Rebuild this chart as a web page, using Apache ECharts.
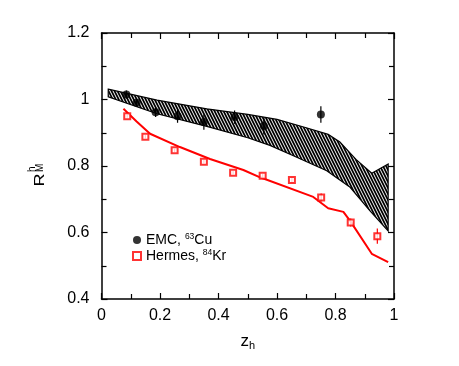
<!DOCTYPE html>
<html>
<head>
<meta charset="utf-8">
<script src="https://cdn.jsdelivr.net/npm/echarts/dist/echarts.min.js"></script>
<style>
  html, body { margin: 0; padding: 0; background: #fff; }
  #chart { width: 459px; height: 366px; }
</style>
</head>
<body>
<div id="chart"></div>
<script>
// EMC, 63Cu
const emcX = [0.085, 0.12, 0.185, 0.26, 0.35, 0.455, 0.555, 0.75];
const emcY = [1.015, 0.99, 0.962, 0.95, 0.932, 0.947, 0.92, 0.955];
const emcErr = [0.012, 0.012, 0.015, 0.02, 0.023, 0.02, 0.025, 0.025];
// Hermes, 84Kr
const hermesX = [0.088, 0.15, 0.25, 0.35, 0.45, 0.551, 0.651, 0.751, 0.852, 0.943];
const hermesY = [0.95, 0.888, 0.847, 0.813, 0.78, 0.771, 0.758, 0.705, 0.63, 0.589];
const hermesErr = [0.005, 0.005, 0.005, 0.005, 0.005, 0.005, 0.008, 0.012, 0.012, 0.023];
// red curve
const curveX = [0.075, 0.12, 0.166, 0.268, 0.371, 0.485, 0.542, 0.724, 0.775, 0.827, 0.85, 0.924, 0.98];
const curveY = [0.972, 0.934, 0.897, 0.857, 0.821, 0.788, 0.766, 0.707, 0.673, 0.662, 0.635, 0.536, 0.511];
// hatched band
const bandUpX = [0.023, 0.19, 0.36, 0.5, 0.6, 0.7, 0.775, 0.815, 0.87, 0.924, 0.98];
const bandUpY = [1.031, 0.998, 0.972, 0.955, 0.94, 0.915, 0.895, 0.872, 0.82, 0.778, 0.806];
const bandLoX = [0.023, 0.19, 0.36, 0.5, 0.576, 0.656, 0.77, 0.85, 0.918, 0.98];
const bandLoY = [1.008, 0.957, 0.919, 0.885, 0.862, 0.831, 0.786, 0.736, 0.665, 0.605];
// ticks
const xTicks = { min: 0, max: 1, interval: 0.2 };
const yTicks = { min: 0.4, max: 1.2, interval: 0.2 };

const FONT = '"Liberation Sans", Arial, sans-serif';

// hatch pattern "\\\\"
function makeHatch() {
  const c = document.createElement('canvas');
  c.width = 3;
  c.height = 6;
  const ctx = c.getContext('2d');
  ctx.fillStyle = '#fff';
  ctx.fillRect(0, 0, 3, 6);
  ctx.strokeStyle = '#000';
  ctx.lineWidth = 1.8;
  for (let k = -1; k <= 1; k++) {
    ctx.beginPath();
    ctx.moveTo(k * 3 - 3, -6);
    ctx.lineTo(k * 3 + 6, 12);
    ctx.stroke();
  }
  return c;
}
const hatch = makeHatch();

const chart = echarts.init(document.getElementById('chart'));

function frameAxis(pos, t, showLabel, extra) {
  return Object.assign({
    type: 'value',
    position: pos,
    min: t.min,
    max: t.max,
    interval: t.interval,
    axisLine: { show: true, onZero: false, lineStyle: { color: '#000', width: 1.5 } },
    axisTick: { show: true, inside: true, length: 6, lineStyle: { color: '#000', width: 1.2 } },
    minorTick: { show: true, splitNumber: 2, length: 5, lineStyle: { color: '#000', width: 1.2 } },
    splitLine: { show: false },
    axisLabel: { show: showLabel, color: '#000', fontSize: 16, fontFamily: FONT }
  }, extra || {});
}

const option = {
  animation: false,
  grid: { left: 101.5, right: 65, top: 33, bottom: 67, containLabel: false },
  xAxis: [
    frameAxis('bottom', xTicks, true, {
      axisLabel: { show: true, color: '#000', fontSize: 16, fontFamily: FONT, margin: 9 },
      name: '{z|z}{h|h}',
      nameLocation: 'middle',
      nameGap: 34,
      nameTextStyle: {
        rich: {
          z: { fontSize: 17, fontFamily: FONT, color: '#000', lineHeight: 18, verticalAlign: 'top' },
          h: { fontSize: 11, fontFamily: FONT, color: '#000', lineHeight: 18, verticalAlign: 'bottom', padding: [8, 0, 0, 0] }
        }
      }
    }),
    frameAxis('top', xTicks, false)
  ],
  yAxis: [
    frameAxis('left', yTicks, true, {
      axisLabel: { show: true, color: '#000', fontSize: 16, fontFamily: FONT, margin: 12 }
    }),
    frameAxis('right', yTicks, false)
  ],
  legend: {
    orient: 'vertical',
    left: 132,
    top: 232,
    padding: 0,
    itemWidth: 8,
    itemHeight: 8,
    itemGap: 1,
    data: ['EMC', 'Hermes'],
    formatter: function (name) {
      return name === 'EMC' ? '{t|EMC, }{s|63}{t|Cu}' : '{t|Hermes, }{s|84}{t|Kr}';
    },
    textStyle: {
      rich: {
        t: { fontSize: 14, fontFamily: FONT, color: '#000', lineHeight: 16 },
        s: { fontSize: 8.5, fontFamily: FONT, color: '#000', lineHeight: 16, verticalAlign: 'top' }
      }
    }
  },
  graphic: [{
    type: 'group',
    x: 40,
    y: 180,
    rotation: Math.PI / 2,
    children: [
      { type: 'text', x: 0, y: 0, scaleX: 1.3, style: { text: 'R', font: '14px ' + FONT, fill: '#000', align: 'center', verticalAlign: 'middle' } },
      { type: 'text', x: 8, y: -8, style: { text: 'h', font: '10px ' + FONT, fill: '#000', align: 'left', verticalAlign: 'middle' } },
      { type: 'text', x: 8, y: 0.5, style: { text: 'M', font: '10px ' + FONT, fill: '#000', align: 'left', verticalAlign: 'middle' } }
    ]
  }],
  series: [
    {
      name: 'band',
      type: 'custom',
      data: [0],
      z: 1,
      silent: true,
      renderItem: function (params, api) {
        const pts = [];
        for (let i = 0; i < bandUpX.length; i++) pts.push(api.coord([bandUpX[i], bandUpY[i]]));
        for (let i = bandLoX.length - 1; i >= 0; i--) pts.push(api.coord([bandLoX[i], bandLoY[i]]));
        return {
          type: 'polygon',
          shape: { points: pts },
          style: { fill: { image: hatch, repeat: 'repeat' }, stroke: '#000', lineWidth: 1.2 }
        };
      }
    },
    {
      name: 'curve',
      type: 'line',
      data: curveX.map((x, i) => [x, curveY[i]]),
      showSymbol: false,
      lineStyle: { color: '#f00', width: 2 },
      z: 2
    },
    {
      name: 'errEMC',
      type: 'custom',
      data: emcX.map((x, i) => [x, emcY[i], emcErr[i]]),
      z: 3,
      renderItem: function (params, api) {
        const a = api.coord([api.value(0), api.value(1) - api.value(2)]);
        const b = api.coord([api.value(0), api.value(1) + api.value(2)]);
        return { type: 'line', shape: { x1: a[0], y1: a[1], x2: b[0], y2: b[1] }, style: { stroke: '#000', lineWidth: 1.2 } };
      }
    },
    {
      name: 'errHermes',
      type: 'custom',
      data: hermesX.map((x, i) => [x, hermesY[i], hermesErr[i]]),
      z: 3,
      renderItem: function (params, api) {
        const a = api.coord([api.value(0), api.value(1) - api.value(2)]);
        const b = api.coord([api.value(0), api.value(1) + api.value(2)]);
        return { type: 'line', shape: { x1: a[0], y1: a[1], x2: b[0], y2: b[1] }, style: { stroke: '#f00', lineWidth: 1.2 } };
      }
    },
    {
      name: 'EMC',
      type: 'scatter',
      data: emcX.map((x, i) => [x, emcY[i]]),
      symbol: 'circle',
      symbolSize: 8,
      itemStyle: { color: '#000' },
      z: 4
    },
    {
      name: 'Hermes',
      type: 'scatter',
      data: hermesX.map((x, i) => [x, hermesY[i]]),
      symbol: 'rect',
      symbolSize: 6,
      itemStyle: { color: '#fff', borderColor: '#f00', borderWidth: 2 },
      z: 4
    }
  ]
};
chart.setOption(option);
</script>
</body>
</html>
